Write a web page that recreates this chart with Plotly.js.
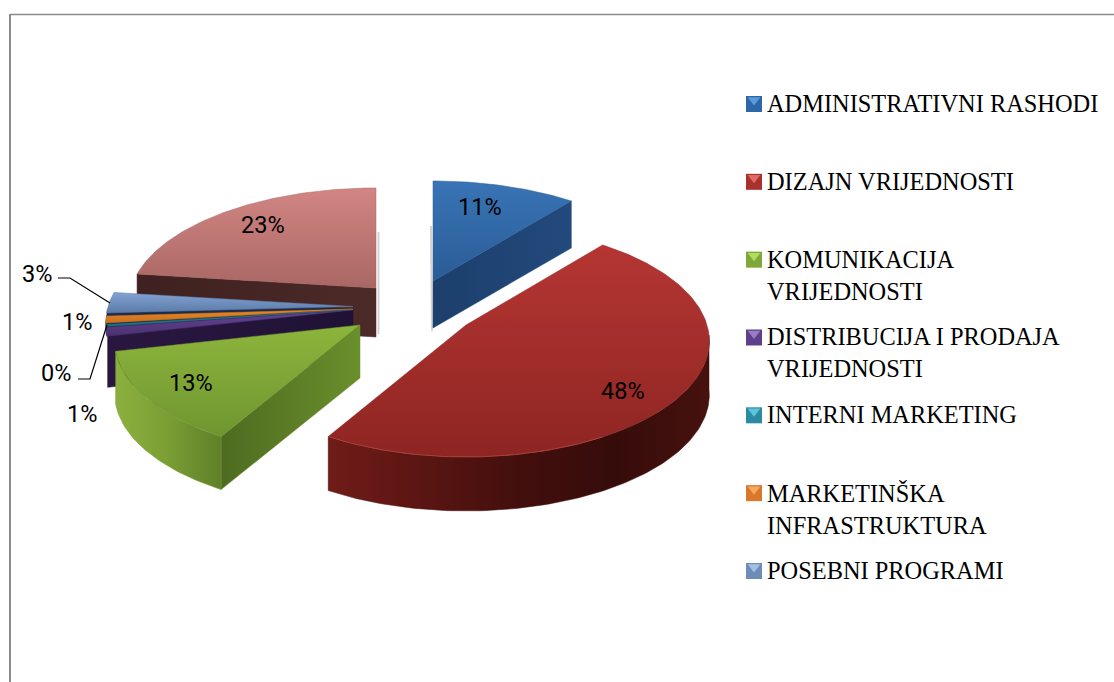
<!DOCTYPE html>
<html><head><meta charset="utf-8">
<script src="https://cdn.plot.ly/plotly-3.0.1.min.js"></script>
<style>html,body{margin:0;padding:0;background:#fff}#c{width:1114px;height:682px}</style>
</head><body><div id="c"></div>
<script>
// ---- data ----
const sliceValues = [10.8, 47.6, 13, 1.2, 0.4, 1.1, 2.9, 23];
const sliceLabels = ['11%','48%','13%','1%','0%','1%','3%','23%'];
const legendLabels = ['ADMINISTRATIVNI RASHODI','DIZAJN VRIJEDNOSTI','KOMUNIKACIJA<br>VRIJEDNOSTI','DISTRIBUCIJA I PRODAJA<br>VRIJEDNOSTI','INTERNI MARKETING','MARKETINŠKA<br>INFRASTRUKTURA','POSEBNI PROGRAMI'];
const legendColors = ['#2f66a6','#a8302d','#7fa83a','#5f3f8c','#2c8ba3','#d9782a','#6f8cb8'];
const legendLight  = ['#5a9ae0','#e06a66','#b4dc60','#9a7cc4','#5cc4dc','#f4a860','#a6c0e2'];

// ---- geometry of the projected pie ----
const RX = 241, RY = 113.8, P = 0.1376;
const sum = sliceValues.reduce((a,b)=>a+b,0);
const starts = []; let acc = 0;
sliceValues.forEach(v=>{starts.push(acc/sum*360); acc+=v;});
const ends = starts.map((s,i)=>s+sliceValues[i]/sum*360);
const rad = d=>d*Math.PI/180;
function pt(a,t,rx,dz){
  const X=Math.sin(rad(t)),Y=Math.cos(rad(t)),w=1+P*Y;
  return [a[0]+(rx||RX)*X/w, a[1]-RY*Y/w+(dz||0)];
}
function arc(a,t0,t1,rx,dz){
  const n=Math.max(2,Math.ceil(Math.abs(t1-t0)));
  const o=[];
  for(let i=0;i<=n;i++)o.push(pt(a,t0+(t1-t0)*i/n,rx,dz));
  return o;
}
// stops are listed top→bottom or left→right
function poly(points,stops,type){
  const x=points.map(p=>p[0]),y=points.map(p=>p[1]);
  x.push(x[0]);y.push(y[0]);
  const tr={type:'scatter',mode:'lines',x,y,fill:'toself',hoverinfo:'skip',showlegend:false,
    line:{width:0.5,color:stops[Math.floor(stops.length/2)]}};
  if(stops.length===1){tr.fillcolor=stops[0];tr.line.color=stops[0];}
  else{
    const t=type||'vertical';
    const n=stops.length-1;
    // y axis runs downward, so a vertical scale is read from the bottom
    const cs=stops.map((c,i)=>t==='vertical'?[(n-i)/n,c]:[i/n,c]);
    cs.sort((a,b)=>a[0]-b[0]);
    tr.fillcolor=stops[0];
    tr.fillgradient={type:t,colorscale:cs};
  }
  return tr;
}
const stroke=(pts,color,width)=>({type:'scatter',mode:'lines',x:pts.map(p=>p[0]),y:pts.map(p=>p[1]),hoverinfo:'skip',showlegend:false,line:{color,width}});
const topFace=(a,i,rx)=>[a].concat(arc(a,starts[i],ends[i],rx));
const cutFace=(a,t,rx,d)=>{const e=pt(a,t,rx);return [a,e,[e[0],e[1]+d],[a[0],a[1]+d]];};
const outerWall=(a,t0,t1,rx,d)=>arc(a,t0,t1,rx).concat(arc(a,t1,t0,rx,d));

const A={blue:[433,281],red:[466,325],green:[360,325],pink:[376,288],small:[353,309]};
const traces=[];
// soft edge shadows
traces.push(stroke([[378.5,232],[378.5,334]],'#d2d2d2',2));
traces.push(stroke([[431,226],[432,331]],'#d2d2d2',2));
// pink (back)
traces.push(poly(cutFace(A.pink,starts[7],RX+4,49),['#3e2120','#4c2a28'],'horizontal'));
traces.push(poly(topFace(A.pink,7,RX+4),['#d28683','#a96764']));
// small slices
traces.push(poly(cutFace(A.small,starts[3],RX+3,52),['#2a1740','#1f1236'],'horizontal'));
traces.push(poly([A.small].concat(arc(A.small,starts[3],ends[6],RX+4)),['#1f2a48']));
const smallCols=[['#6a4696','#4a3070'],['#2f97aa','#1f6a7a'],['#ea8a24','#c87020'],['#84a3d2','#5a7aa8']];
const smallOff=[1,0.5,0,-2.5];
[3,4,5,6].forEach((i,k)=>{
  const a=[A.small[0],A.small[1]+smallOff[k]];
  const margin=(i===3||i===6)?0:0.25;
  traces.push(poly([a].concat(arc(a,starts[i]+margin,ends[i]-margin,RX+4)),smallCols[k],'vertical'));
});
// blue
traces.push(poly(cutFace(A.blue,ends[0],RX+3,47),['#1c3f6c','#234a7c'],'horizontal'));
traces.push(poly(topFace(A.blue,0,RX+3),['#3974b6','#2a5c96']));
// green
traces.push(poly(outerWall(A.green,starts[2],ends[2],RX+2,53),['#8cb03e','#7a9e34','#5f8028'],'horizontal'));
traces.push(poly(cutFace(A.green,starts[2],RX+2,53),['#4e6b20','#6a8f2c'],'horizontal'));
traces.push(poly(topFace(A.green,2,RX+2),['#8db53c','#6f9530']));
// red
traces.push(poly(outerWall(A.red,95,ends[1],RX,54),['#701c18','#5a1512','#430f0d','#350c0a','#47110e'],'horizontal'));
traces.push(poly(topFace(A.red,1),['#b53633','#8e2522']));
traces.push(stroke(arc(A.red,150,ends[1]),'#a8403a',1));

// leader lines
const leader=(x,y)=>({type:'scatter',mode:'lines',x,y,hoverinfo:'skip',showlegend:false,line:{color:'#000',width:1.2}});
traces.push(leader([58,70,110],[278,278,303]));
traces.push(leader([78,90,107],[379,379,325]));

// legend swatches
const rowY=legendLabels.map((_,i)=>104+i*77.83);
traces.push({type:'scatter',mode:'markers',x:rowY.map(()=>754),y:rowY,hoverinfo:'skip',showlegend:false,
  marker:{symbol:'square',size:16,color:legendColors,line:{width:0}}});
traces.push({type:'scatter',mode:'markers',x:rowY.map(()=>754),y:rowY.map(v=>v-4),hoverinfo:'skip',showlegend:false,
  marker:{symbol:'triangle-down',size:11,color:legendLight,line:{width:0}}});

// text
const labelPos=[[480,207],[623,391],[191,383],[82,414],[56,373],[77,322],[37,274],[263,225]];
const ann=sliceLabels.map((t,i)=>({x:labelPos[i][0],y:labelPos[i][1],xref:'x',yref:'y',text:t,showarrow:false,
  font:{family:'Roboto, sans-serif',size:23.5,color:'#000'},xanchor:'center',yanchor:'middle'}));
legendLabels.forEach((t,i)=>ann.push({x:767,y:rowY[i]-16,xref:'x',yref:'y',text:t,showarrow:false,align:'left',
  font:{family:'Liberation Serif, serif',size:24.4,color:'#000'},xanchor:'left',yanchor:'top',xshift:-2}));

const layout={width:1114,height:682,margin:{l:0,r:0,t:0,b:0},paper_bgcolor:'#fff',plot_bgcolor:'#fff',showlegend:false,
  xaxis:{range:[0,1114],visible:false,fixedrange:true},
  yaxis:{range:[682,0],visible:false,fixedrange:true},
  annotations:ann,
  shapes:[
    {type:'line',xref:'x',yref:'y',x0:10,x1:1114,y0:14.5,y1:14.5,line:{color:'#8a8a8a',width:1.5}},
    {type:'line',xref:'x',yref:'y',x0:10,x1:10,y0:14,y1:682,line:{color:'#8a8a8a',width:2}}
  ]};
Plotly.newPlot('c',traces,layout,{displayModeBar:false,staticPlot:true});
</script></body></html>
